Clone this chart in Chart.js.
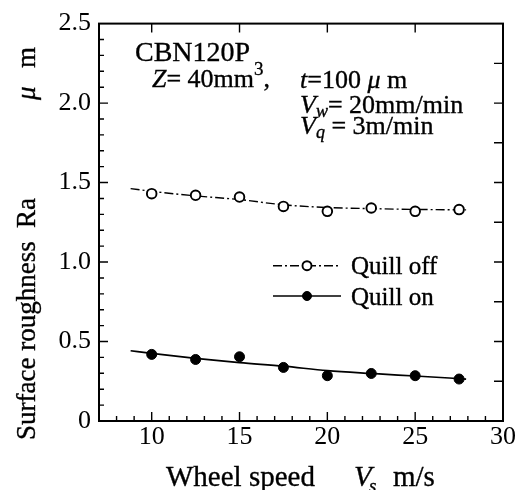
<!DOCTYPE html>
<html><head><meta charset="utf-8">
<script src="https://cdn.jsdelivr.net/npm/chart.js@4/dist/chart.umd.min.js"></script>
<style>html,body{margin:0;padding:0;background:#fff;}#wrap{width:519px;height:490px;}</style>
</head><body><div id="wrap"><canvas id="c" width="519" height="490"></canvas></div>
<script>
// ---- data ----
const speeds = [10, 12.5, 15, 17.5, 20, 22.5, 25, 27.5];
const quillOff = [1.430, 1.420, 1.409, 1.350, 1.319, 1.340, 1.319, 1.330];
const quillOn = [0.419, 0.387, 0.404, 0.337, 0.285, 0.299, 0.285, 0.264];
const fitSpeeds = [8.8, 10, 12.5, 15, 17.5, 20, 22.5, 25, 27.9];
const quillOffFit = [1.462, 1.445, 1.416, 1.393, 1.360, 1.343, 1.336, 1.331, 1.328];
const quillOnFit = [0.442, 0.425, 0.394, 0.367, 0.345, 0.317, 0.299, 0.283, 0.264];
const xTickLabels = ['10', '15', '20', '25', '30'];
const yTickLabels = ['0', '0.5', '1.0', '1.5', '2.0', '2.5'];
const seriesNames = ['Quill off', 'Quill on'];

const FONT = 'Liberation Serif';
const toXY = (xs, ys) => xs.map((x, i) => ({x: x, y: ys[i]}));
function labelFor(list, v) {
  for (const l of list) { if (Math.abs(parseFloat(l) - v) < 1e-6) return l; }
  return '';
}
const offDash = [9, 3, 2, 3];

function drawSegs(ctx, x0, y0, segs) {
  let x = x0;
  for (const s of segs) {
    if (s.x !== undefined) x = x0 + s.x;
    ctx.font = (s.it ? 'italic ' : '') + (s.size || 26) + 'px "' + FONT + '"';
    ctx.fillText(s.t, x, y0 + (s.dy || 0));
    ctx.lineWidth = 0.35;
    ctx.strokeText(s.t, x, y0 + (s.dy || 0));
    x += ctx.measureText(s.t).width + (s.gap || 0);
  }
}

const decor = {
  id: 'decor',
  afterDraw(chart) {
    const ctx = chart.ctx;
    const a = chart.chartArea;
    const sx = chart.scales.x, sy = chart.scales.y, sx2 = chart.scales.x2, sy2 = chart.scales.y2;
    ctx.save();
    ctx.strokeStyle = '#000';
    ctx.fillStyle = '#000';
    ctx.lineWidth = 2;
    ctx.strokeRect(a.left, a.top, a.right - a.left, a.bottom - a.top);
    ctx.lineWidth = 1.4;
    ctx.beginPath();
    sx.ticks.forEach(t => {
      if (t.value <= sx.min || t.value >= sx.max) return;
      const p = sx.getPixelForValue(t.value);
      const len = labelFor(xTickLabels, t.value) ? 9 : 5;
      ctx.moveTo(p, a.bottom); ctx.lineTo(p, a.bottom - len);
    });
    sx2.ticks.forEach(t => {
      if (t.value <= sx2.min || t.value >= sx2.max) return;
      const p = sx2.getPixelForValue(t.value);
      ctx.moveTo(p, a.top); ctx.lineTo(p, a.top + 9);
    });
    sy.ticks.forEach(t => {
      if (t.value <= sy.min + 1e-9 || t.value >= sy.max - 1e-9) return;
      const p = sy.getPixelForValue(t.value);
      const len = labelFor(yTickLabels, t.value) ? 9 : 5;
      ctx.moveTo(a.left, p); ctx.lineTo(a.left + len, p);
    });
    sy2.ticks.forEach(t => {
      if (t.value <= sy2.min + 1e-9 || t.value >= sy2.max - 1e-9) return;
      const p = sy2.getPixelForValue(t.value);
      ctx.moveTo(a.right, p); ctx.lineTo(a.right - 9, p);
    });
    ctx.stroke();

    // legend
    const rows = [265.7, 296];
    [0, 1].forEach(i => {
      const ds = chart.data.datasets[i + 2];
      const pt = chart.data.datasets[i];
      const y = rows[i];
      ctx.lineWidth = ds.borderWidth;
      ctx.setLineDash(ds.borderDash || []);
      ctx.beginPath(); ctx.moveTo(273, y); ctx.lineTo(341, y); ctx.stroke();
      ctx.setLineDash([]);
      ctx.beginPath(); ctx.arc(307, y, 4.5, 0, Math.PI * 2);
      ctx.fillStyle = pt.pointBackgroundColor; ctx.fill();
      ctx.lineWidth = pt.pointBorderWidth; ctx.stroke();
      ctx.fillStyle = '#000';
      ctx.textBaseline = 'alphabetic'; ctx.textAlign = 'left';
      drawSegs(ctx, 351, y + 8.6, [{t: seriesNames[i], size: 25}]);
    });

    // annotations
    ctx.textBaseline = 'alphabetic'; ctx.textAlign = 'left';
    drawSegs(ctx, 135, 61, [{t: 'CBN120P', size: 28}]);
    drawSegs(ctx, 152, 87, [{t: 'Z', it: true}, {t: '= 40mm'}, {t: '3', size: 19, dy: -12}, {t: ','}]);
    drawSegs(ctx, 300, 88, [{t: 't', it: true}, {t: '=100 '}, {t: '\u03bc', it: true}, {t: ' m'}]);
    drawSegs(ctx, 300, 113, [{t: 'V', it: true}, {t: 'w', it: true, size: 18, dy: 4}, {t: '= 20mm/min'}]);
    drawSegs(ctx, 300, 134, [{t: 'V', it: true}, {t: 'q', it: true, size: 18, dy: 4}, {t: ' = 3m/min'}]);

    // x title
    drawSegs(ctx, 166, 486, [{t: 'Wheel speed', size: 29}, {t: 'V', it: true, size: 29, x: 188}, {t: 's', it: true, size: 19, dy: 6, x: 203}, {t: 'm/s', size: 29, x: 227}]);

    // y title
    ctx.translate(35, 0);
    ctx.rotate(-Math.PI / 2);
    drawSegs(ctx, -440, 0, [{t: 'Surface roughness', size: 27}, {t: 'Ra', size: 27, x: 212}, {t: '\u03bc', it: true, size: 27, x: 340}, {t: 'm', size: 27, x: 372}]);
    ctx.restore();
  }
};

const tickFont = {family: FONT, size: 26};
new Chart(document.getElementById('c'), {
  type: 'scatter',
  data: {
    datasets: [
      {label: seriesNames[0], data: toXY(speeds, quillOff), pointRadius: 4.8, pointBackgroundColor: '#fff', pointBorderColor: '#000', pointBorderWidth: 1.9, showLine: false},
      {label: seriesNames[1], data: toXY(speeds, quillOn), pointRadius: 5, pointBackgroundColor: '#000', pointBorderColor: '#000', pointBorderWidth: 1, showLine: false},
      {label: seriesNames[0] + ' fit', data: toXY(fitSpeeds, quillOffFit), showLine: true, pointRadius: 0, borderColor: '#000', borderWidth: 1.4, borderDash: offDash, tension: 0.4, cubicInterpolationMode: 'monotone', order: 5},
      {label: seriesNames[1] + ' fit', data: toXY(fitSpeeds, quillOnFit), showLine: true, pointRadius: 0, borderColor: '#000', borderWidth: 1.7, tension: 0.4, cubicInterpolationMode: 'monotone', order: 5}
    ]
  },
  options: {
    responsive: false, animation: false, devicePixelRatio: 1,
    layout: {padding: {top: 23, right: 16, left: 0, bottom: 0}},
    plugins: {legend: {display: false}, tooltip: {enabled: false}},
    scales: {
      x: {type: 'linear', position: 'bottom', min: 7, max: 30,
        ticks: {stepSize: 1, autoSkip: false, maxRotation: 0, minRotation: 0, padding: 1, color: '#000', font: tickFont,
          callback: v => labelFor(xTickLabels, v)},
        grid: {display: false, drawTicks: false}, border: {display: false},
        afterFit: s => { s.height = 69; }},
      x2: {type: 'linear', position: 'top', min: 7, max: 30,
        ticks: {stepSize: 5, display: false}, grid: {display: false, drawTicks: false}, border: {display: false},
        afterFit: s => { s.height = 0; }},
      y: {type: 'linear', position: 'left', min: 0, max: 2.5,
        ticks: {stepSize: 0.1, autoSkip: false, padding: 8, color: '#000', font: tickFont,
          callback: v => labelFor(yTickLabels, v)},
        grid: {display: false, drawTicks: false}, border: {display: false},
        afterFit: s => { s.width = 99; }},
      y2: {type: 'linear', position: 'right', min: 0, max: 2.5,
        ticks: {stepSize: 0.25, display: false}, grid: {display: false, drawTicks: false}, border: {display: false},
        afterFit: s => { s.width = 0; }}
    }
  },
  plugins: [decor]
});
</script></body></html>
